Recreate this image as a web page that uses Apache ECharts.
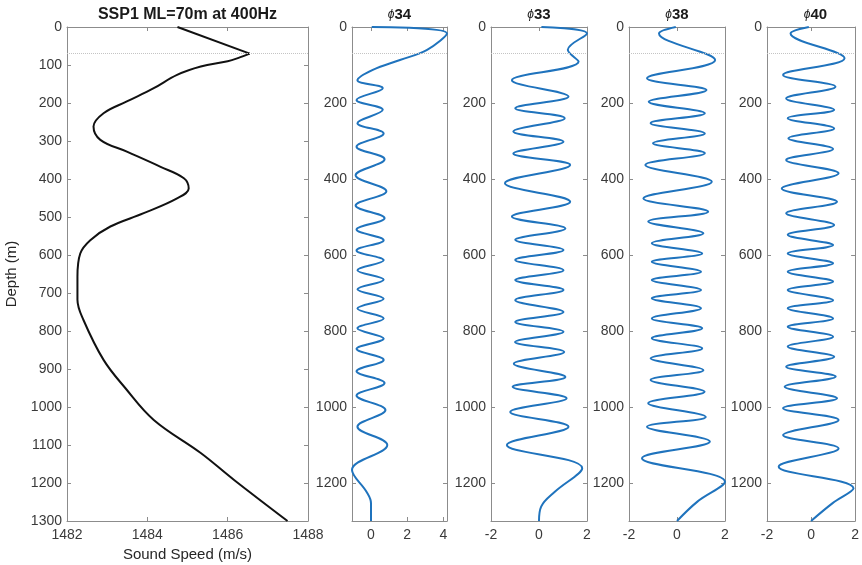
<!DOCTYPE html>
<html><head><meta charset="utf-8">
<script src="https://cdn.jsdelivr.net/npm/echarts@6/dist/echarts.min.js"></script>
<style>html,body{margin:0;padding:0;background:#fff}#c{width:862px;height:565px}</style>
</head><body><div id="c"></div>
<script>
// ---------- DATA ----------
const mixedLayerDepth = 70;

const sspDepth = [0, 70, 80, 90, 104, 126, 161, 196, 227, 262, 297, 328, 368, 398, 425, 451, 490, 525, 561, 596, 657, 718, 771, 876, 950, 1034, 1121, 1192, 1300];
const sspSpeed = [1484.75, 1486.55, 1486.3, 1486.0, 1485.33, 1484.74, 1484.16, 1483.49, 1482.91, 1482.66, 1482.83, 1483.49, 1484.33, 1484.91, 1485.03, 1484.74, 1483.91, 1483.08, 1482.58, 1482.33, 1482.26, 1482.26, 1482.41, 1482.91, 1483.45, 1484.16, 1485.33, 1486.16, 1487.49];

const phi34Depth = [0, 17, 60, 87, 113, 140, 161, 192, 218, 253, 280, 315, 348, 390, 432, 470, 503, 533, 561, 588, 614, 640, 665, 690, 715, 741, 767, 793, 820, 847, 876, 906, 937, 970, 1008, 1052, 1100, 1166, 1223, 1253, 1300];
const phi34Value = [0.04, 4.2, 3.1, 1.6, 0.1, -0.75, 0.65, -0.8, 0.65, -0.75, 0.7, -0.8, 0.75, -0.85, 0.85, -0.85, 0.75, -0.8, 0.7, -0.8, 0.7, -0.75, 0.7, -0.75, 0.7, -0.75, 0.7, -0.75, 0.7, -0.8, 0.7, -0.8, 0.75, -0.8, 0.8, -0.75, 0.9, -1.05, -0.25, 0, 0];

const phi33Depth = [0, 17, 60, 91, 140, 183, 214, 240, 275, 302, 333, 363, 411, 460, 499, 530, 560, 587, 613, 640, 666, 692, 719, 750, 776, 802, 829, 855, 886, 921, 947, 977, 1013, 1052, 1100, 1161, 1223, 1262, 1300];
const phi33Value = [0.1, 2.0, 1.2, 1.65, -1.13, 1.23, -0.99, 1.07, -1.07, 1.02, -1.07, 1.3, -1.42, 1.3, -1.13, 1.1, -0.99, 1.02, -0.99, 1.02, -0.99, 1.02, -0.99, 1.02, -0.99, 1.02, -1.0, 1.05, -1.05, 1.1, -1.1, 1.15, -1.2, 1.23, -1.34, 1.8, 0.66, 0.09, 0];

const phi38Depth = [0, 17, 87, 135, 166, 197, 227, 253, 280, 306, 332, 363, 407, 451, 486, 512, 543, 569, 596, 618, 644, 666, 692, 714, 740, 767, 793, 819, 846, 872, 903, 929, 960, 990, 1026, 1052, 1091, 1135, 1197, 1249, 1300];
const phi38Value = [-0.05, -0.75, 1.59, -1.25, 1.23, -1.18, 1.16, -1.1, 1.16, -1.0, 1.16, -1.32, 1.45, -1.4, 1.3, -1.2, 1.1, -1.05, 1.05, -1.05, 1.0, -1.05, 1.0, -1.05, 1.0, -1.05, 1.05, -1.05, 1.05, -1.1, 1.1, -1.1, 1.15, -1.2, 1.2, -1.25, 1.37, -1.46, 2.0, 0.85, 0];

const phi40Depth = [0, 17, 82, 126, 157, 188, 218, 240, 267, 293, 321, 350, 385, 425, 460, 490, 521, 547, 574, 596, 622, 644, 670, 692, 719, 740, 767, 789, 815, 841, 868, 894, 920, 947, 977, 1003, 1034, 1074, 1109, 1157, 1214, 1253, 1300];
const phi40Value = [-0.1, -0.93, 1.52, -1.27, 1.11, -1.13, 1.05, -1.06, 1.05, -1.03, 1.0, -1.13, 1.25, -1.33, 1.18, -1.13, 1.05, -1.06, 1.0, -1.06, 1.0, -1.06, 1.0, -1.06, 1.0, -1.06, 1.0, -1.06, 1.0, -1.06, 1.05, -1.13, 1.12, -1.2, 1.18, -1.27, 1.25, -1.27, 1.25, -1.47, 1.93, 0.98, 0];

const sspXTicks = [1482, 1484, 1486, 1488];
const phi34XTicks = [0, 2, 4];
const phiXTicks = [-2, 0, 2];
const sspYTicks = [0, 100, 200, 300, 400, 500, 600, 700, 800, 900, 1000, 1100, 1200, 1300];
const modeYTicks = [0, 200, 400, 600, 800, 1000, 1200];

const panelTitles = ['SSP1 ML=70m at 400Hz', '34', '33', '38', '40'];
const xAxisTitle = 'Sound Speed (m/s)';
const yAxisTitle = 'Depth (m)';

// ---------- LAYOUT / STYLE ----------
const FONT = '"Liberation Sans", Arial, Helvetica, sans-serif';
const axisColor = '#8c8c8c';
const labelColor = '#3a3a3a';
const blue = '#1f73bd';

const grids = [
  {left: 67, top: 27, width: 241, height: 494},
  {left: 352, top: 27, width: 95, height: 494},
  {left: 491, top: 27, width: 96, height: 494},
  {left: 629, top: 27, width: 96, height: 494},
  {left: 767, top: 27, width: 97, height: 494}
];
const panels = [
  {xMin: 1482, xMax: 1488, xTicks: sspXTicks, yTicks: sspYTicks},
  {xMin: -1.05, xMax: 4.2, xTicks: phi34XTicks, yTicks: modeYTicks},
  {xMin: -2, xMax: 2, xTicks: phiXTicks, yTicks: modeYTicks},
  {xMin: -2, xMax: 2, xTicks: phiXTicks, yTicks: modeYTicks},
  {xMin: -2, xMax: 2, xTicks: phiXTicks, yTicks: modeYTicks}
];
const plain = v => String(v);

const xAxes = [], yAxes = [];
panels.forEach((p, i) => {
  const lineStyle = {color: axisColor, width: 1};
  xAxes.push({
    type: 'value', gridIndex: i, position: 'bottom', min: p.xMin, max: p.xMax,
    axisLine: {show: true, onZero: false, lineStyle},
    axisTick: {show: true, inside: true, length: 4, customValues: p.xTicks, lineStyle},
    axisLabel: {customValues: p.xTicks, formatter: plain, margin: 7, fontSize: 14, color: labelColor, fontFamily: FONT},
    splitLine: {show: false}
  });
  xAxes.push({
    type: 'value', gridIndex: i, position: 'top', min: p.xMin, max: p.xMax,
    axisLine: {show: true, onZero: false, lineStyle},
    axisTick: {show: true, inside: true, length: 4, customValues: p.xTicks, lineStyle},
    axisLabel: {show: false},
    splitLine: {show: false}
  });
  yAxes.push({
    type: 'value', gridIndex: i, position: 'left', inverse: true, min: 0, max: 1300,
    axisLine: {show: true, onZero: false, lineStyle},
    axisTick: {show: true, inside: true, length: 4, customValues: p.yTicks, lineStyle},
    axisLabel: {customValues: p.yTicks, formatter: plain, margin: 5, fontSize: 14, color: labelColor, fontFamily: FONT},
    splitLine: {show: false}
  });
  yAxes.push({
    type: 'value', gridIndex: i, position: 'right', inverse: true, min: 0, max: 1300,
    axisLine: {show: true, onZero: false, lineStyle},
    axisTick: {show: true, inside: true, length: 4, customValues: p.yTicks, lineStyle},
    axisLabel: {show: false},
    splitLine: {show: false}
  });
});

function pairs(vals, depths) { return vals.map((v, k) => [v, depths[k]]); }
const mlLine = {
  silent: true, symbol: ['none', 'none'], label: {show: false},
  lineStyle: {type: 'dotted', color: '#c4c4c4', width: 1},
  data: [{yAxis: mixedLayerDepth}]
};

const sspPts = pairs(sspSpeed, sspDepth);
const series = [
  {type: 'line', xAxisIndex: 0, yAxisIndex: 0, data: sspPts.slice(0, 2), showSymbol: false,
   lineStyle: {color: '#111', width: 2}, markLine: mlLine},
  {type: 'line', xAxisIndex: 0, yAxisIndex: 0, data: sspPts.slice(1), smooth: 0.38, showSymbol: false,
   lineStyle: {color: '#111', width: 2}}
];
const modes = [[phi34Value, phi34Depth], [phi33Value, phi33Depth], [phi38Value, phi38Depth], [phi40Value, phi40Depth]];
modes.forEach((m, j) => {
  const i = j + 1;
  series.push({type: 'line', xAxisIndex: 2 * i, yAxisIndex: 2 * i, data: pairs(m[0], m[1]),
    smooth: 0.38, showSymbol: false, lineStyle: {color: blue, width: 2}, markLine: mlLine});
});

const graphics = [];
grids.forEach((g, i) => {
  const cx = g.left + g.width / 2;
  if (i === 0) {
    graphics.push({type: 'text', x: cx, y: 15, style: {text: panelTitles[0], font: 'bold 16px ' + FONT,
      fill: '#1a1a1a', textAlign: 'center', textVerticalAlign: 'middle'}});
  } else {
    graphics.push({type: 'text', x: cx, y: 15, style: {text: '{p|ϕ}{n|' + panelTitles[i] + '}',
      textAlign: 'center', textVerticalAlign: 'middle',
      rich: {p: {font: 'italic 12px ' + FONT, fill: '#1a1a1a'}, n: {font: 'bold 15px ' + FONT, fill: '#1a1a1a'}}}});
  }
});
graphics.push({type: 'text', x: grids[0].left + grids[0].width / 2, y: 555,
  style: {text: xAxisTitle, font: '15px ' + FONT, fill: '#262626', textAlign: 'center', textVerticalAlign: 'middle'}});
graphics.push({type: 'text', x: 12, y: 274, rotation: Math.PI / 2,
  style: {text: yAxisTitle, font: '15px ' + FONT, fill: '#262626', textAlign: 'center', textVerticalAlign: 'middle'}});

const chart = echarts.init(document.getElementById('c'));
chart.setOption({
  animation: false,
  backgroundColor: '#fff',
  grid: grids,
  xAxis: xAxes,
  yAxis: yAxes,
  series: series,
  graphic: graphics
});
</script></body></html>
